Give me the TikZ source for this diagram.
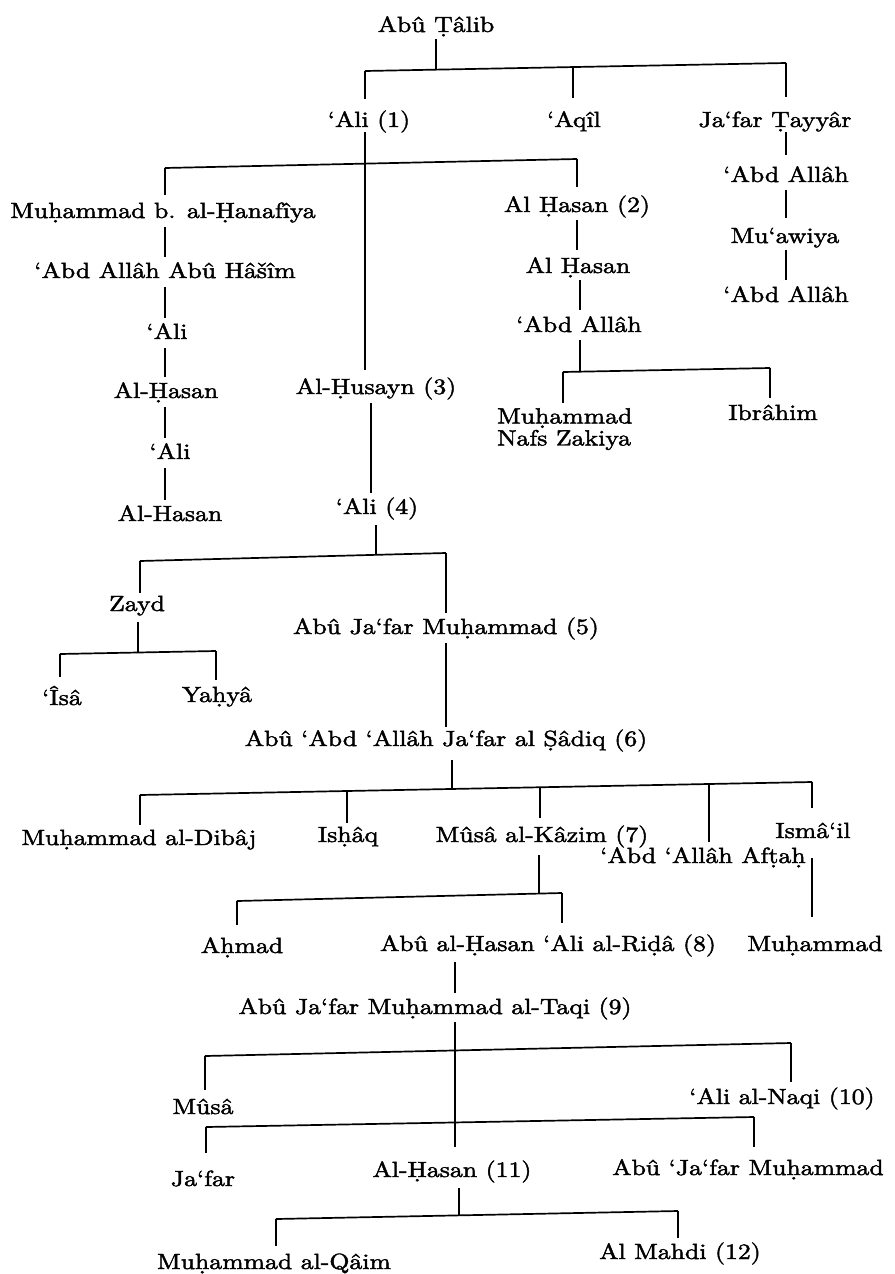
\documentclass[tikz,border=0pt]{standalone}
\usepackage{fontspec}
\newfontfamily\lbfont{lmroman10-regular.otf}[FakeStretch=1.17,FakeBold=2]
\usetikzlibrary{calc}
\tikzset{
  lbl/.style={anchor=base, inner sep=0pt, font=\lbfont\fontsize{22}{22}\selectfont, text height=15pt, text depth=5pt},
  ln/.style={line width=1.7pt},
  chain/.style={ln, shorten <=4pt, shorten >=6pt},
  gap/.style={ln, shorten >=#1},
}
\begin{document}
\begin{tikzpicture}[x=1pt,y=-1pt]
\fill[white] (0,0) rectangle (894,1274);
\useasboundingbox (0,0) rectangle (894,1274);

% ---------- nodes ----------
\node[lbl] (abutalib) at (436,32) {Abû Ṭâlib};
\node[lbl] (ali1) at (369,127) {‘Ali (1)};
\node[lbl] (aqil) at (574,127) {‘Aqîl};
\node[lbl] (jafart) at (775,127) {Ja‘far Ṭayyâr};
\node[lbl] (abdR1) at (786,182) {‘Abd Allâh};
\node[lbl] (muawiya) at (785,243) {Mu‘awiya};
\node[lbl] (abdR3) at (786,302) {‘Abd Allâh};

\node[lbl] (hanafiya) at (163,218) {Muḥammad b. al-Ḥanafîya};
\node[lbl] (abuhasim) at (165,278) {‘Abd Allâh Abû Hâšîm};
\node[lbl] (aliL1) at (167,339) {‘Ali};
\node[lbl] (hasanL1) at (166,398) {Al-Ḥasan};
\node[lbl] (aliL2) at (170,459) {‘Ali};
\node[lbl] (hasanL2) at (170,521) {Al-Hasan};

\node[lbl] (hasan2) at (577,212) {Al Ḥasan (2)};
\node[lbl] (hasanM) at (578,273) {Al Ḥasan};
\node[lbl] (abdM) at (579,332) {‘Abd Allâh};
\node[anchor=north west, inner sep=0pt, align=left, font=\lbfont\fontsize{22}{22}\selectfont] (nafs) at (497,408) {Muḥammad\\Nafs Zakiya};
\node[lbl] (ibrahim) at (773,420) {Ibrâhim};

\node[lbl] (husayn) at (376,394) {Al-Ḥusayn (3)};
\node[lbl] (ali4) at (377,514) {‘Ali (4)};
\node[lbl] (zayd) at (137,611) {Zayd};
\node[lbl] (isa) at (62,705) {‘Îsâ};
\node[lbl] (yahya) at (217,702) {Yaḥyâ};
\node[lbl] (m5) at (446,634) {Abû Ja‘far Muḥammad (5)};
\node[lbl] (s6) at (446,746) {Abû ‘Abd ‘Allâh Ja‘far al Ṣâdiq (6)};

\node[lbl] (dibaj) at (139,845) {Muḥammad al-Dibâj};
\node[lbl] (ishaq) at (348,842) {Isḥâq};
\node[lbl] (k7) at (542,842) {Mûsâ al-Kâzim (7)};
\node[lbl] (aftah) at (703,863) {‘Abd ‘Allâh Afṭaḥ};
\node[lbl] (ismail) at (813,838) {Ismâ‘il};

\node[lbl] (ahmad) at (242,953) {Aḥmad};
\node[lbl] (r8) at (548,951) {Abû al-Ḥasan ‘Ali al-Riḍâ (8)};
\node[lbl] (muhI) at (815,951) {Muḥammad};
\node[lbl] (t9) at (435,1014) {Abû Ja‘far Muḥammad al-Taqi (9)};

\node[lbl] (musa) at (203,1114) {Mûsâ};
\node[lbl] (n10) at (782,1104) {‘Ali al-Naqi (10)};
\node[lbl] (jafar) at (203,1186) {Ja‘far};
\node[lbl] (h11) at (452,1177) {Al-Ḥasan (11)};
\node[lbl] (abujm) at (748,1175) {Abû ‘Ja‘far Muḥammad};
\node[lbl] (qaim) at (274,1269) {Muḥammad al-Qâim};
\node[lbl] (mahdi) at (680,1259) {Al Mahdi (12)};

% ---------- bar coordinates ----------
\coordinate (b0L) at (365,71);  \coordinate (b0R) at (786,63);
\coordinate (j0) at (436,70);   \coordinate (c0a) at (573,67);
\coordinate (b1L) at (165,168); \coordinate (b1R) at (577,159);
\coordinate (j1) at (365,164);
\coordinate (b2L) at (563,372); \coordinate (b2R) at (770,368);
\coordinate (j2) at (580,371);
\coordinate (v3) at (371,450);
\coordinate (b3L) at (140,561); \coordinate (b3R) at (446,553);
\coordinate (j3) at (376,555);
\coordinate (b4L) at (60,654);  \coordinate (b4R) at (216,651);
\coordinate (j4) at (138,652);
\coordinate (b5L) at (140,795); \coordinate (b5R) at (812,782);
\coordinate (j5) at (452,789);
\coordinate (c5a) at (347,791); \coordinate (c5b) at (540,787); \coordinate (c5c) at (709,785);
\coordinate (b6L) at (237,901); \coordinate (b6R) at (562,893);
\coordinate (j6) at (539,894);
\coordinate (b7L) at (205,1056); \coordinate (b7R) at (791,1043);
\coordinate (j7) at (455,1048);
\coordinate (b8L) at (206,1127); \coordinate (b8R) at (754,1117);
\coordinate (b9L) at (276,1219); \coordinate (b9R) at (678,1211);
\coordinate (j9) at (459,1215);

% ---------- connectors ----------
% Abu Talib
\draw[ln, shorten <=2pt] (j0 |- abutalib.south) -- (j0);
\draw[ln] (b0L) -- (b0R);
\draw[gap=13pt] (b0L) -- (b0L |- ali1.north);
\draw[gap=14pt] (c0a) -- (c0a |- aqil.north);
\draw[gap=15pt] (b0R) -- (b0R |- jafart.north);
% Ja'far Tayyar line
\draw[ln, shorten >=12pt] (b0R |- jafart.south) -- (b0R |- abdR1.north);
\draw[ln, shorten <=3pt, shorten >=10pt] (b0R |- abdR1.south) -- (b0R |- muawiya.north);
\draw[ln, shorten <=2pt, shorten >=7pt] (b0R |- muawiya.south) -- (b0R |- abdR3.north);
% 'Ali (1)
\draw[ln, shorten >=9pt] (j1 |- ali1.south) -- (j1 |- husayn.north);
\draw[ln] (b1L) -- (b1R);
\draw[gap=8pt] (b1L) -- (b1L |- hanafiya.north);
\draw[gap=10pt] (b1R) -- (b1R |- hasan2.north);
% left chain
\draw[chain] (b1L |- hanafiya.south) -- (b1L |- abuhasim.north);
\draw[chain] (b1L |- abuhasim.south) -- (b1L |- aliL1.north);
\draw[chain] (b1L |- aliL1.south) -- (b1L |- hasanL1.north);
\draw[chain] (b1L |- hasanL1.south) -- (b1L |- aliL2.north);
\draw[chain] (b1L |- aliL2.south) -- (b1L |- hasanL2.north);
% middle chain
\draw[ln, shorten <=3pt, shorten >=8pt] (b1R |- hasan2.south) -- (b1R |- hasanM.north);
\draw[ln, shorten <=2pt, shorten >=7pt] (j2 |- hasanM.south) -- (j2 |- abdM.north);
\draw[ln, shorten <=3pt] (j2 |- abdM.south) -- (j2);
\draw[ln] (b2L) -- (b2R);
\draw[gap=5pt] (b2L) -- (b2L |- nafs.north);
\draw[gap=7pt] (b2R) -- (b2R |- ibrahim.north);
% Husayn
\draw[ln, shorten <=4pt, shorten >=6pt] (v3 |- husayn.south) -- (v3 |- ali4.north);
\draw[ln, shorten <=6pt] (j3 |- ali4.south) -- (j3);
\draw[ln] (b3L) -- (b3R);
\draw[gap=3pt] (b3L) -- (b3L |- zayd.north);
\draw[gap=6pt] (b3R) -- (b3R |- m5.north);
% Zayd
\draw[ln, shorten <=6pt] (j4 |- zayd.south) -- (j4);
\draw[ln] (b4L) -- (b4R);
\draw[gap=13pt] (b4L) -- (b4L |- isa.north);
\draw[gap=7pt] (b4R) -- (b4R |- yahya.north);
% (5) -> (6)
\draw[ln, shorten <=4pt, shorten >=4pt] (b3R |- m5.south) -- (b3R |- s6.north);
\draw[ln, shorten <=9pt] (j5 |- s6.south) -- (j5);
\draw[ln] (b5L) -- (b5R);
\draw[gap=5pt] (b5L) -- (b5L |- dibaj.north);
\draw[gap=4pt] (c5a) -- (c5a |- ishaq.north);
\draw[gap=9pt] (c5b) -- (c5b |- k7.north);
\draw[gap=6pt] (c5c) -- (c5c |- aftah.north);
\draw[gap=15pt] (b5R) -- (b5R |- ismail.north);
\draw[ln, shorten <=15pt, shorten >=19pt] (b5R |- ismail.south) -- (b5R |- muhI.north);
% (7)
\draw[ln, shorten <=8pt] (j6 |- k7.south) -- (j6);
\draw[ln] (b6L) -- (b6R);
\draw[gap=13pt] (b6L) -- (b6L |- ahmad.north);
\draw[gap=13pt] (b6R) -- (b6R |- r8.north);
% (8) -> (9) -> (11)
\draw[ln, shorten <=6pt, shorten >=6pt] (j7 |- r8.south) -- (j7 |- t9.north);
\draw[ln, shorten <=3pt, shorten >=15pt] (j7 |- t9.south) -- (j7 |- h11.north);
\draw[ln] (b7L) -- (b7R);
\draw[gap=9pt] (b7L) -- (b7L |- musa.north);
\draw[gap=7pt] (b7R) -- (b7R |- n10.north);
\draw[ln] (b8L) -- (b8R);
\draw[gap=18pt] (b8L) -- (b8L |- jafar.north);
\draw[gap=13pt] (b8R) -- (b8R |- abujm.north);
% (11)
\draw[ln, shorten <=6pt] (j9 |- h11.south) -- (j9);
\draw[ln] (b9L) -- (b9R);
\draw[gap=8pt] (b9L) -- (b9L |- qaim.north);
\draw[gap=6pt] (b9R) -- (b9R |- mahdi.north);
\end{tikzpicture}
\end{document}
